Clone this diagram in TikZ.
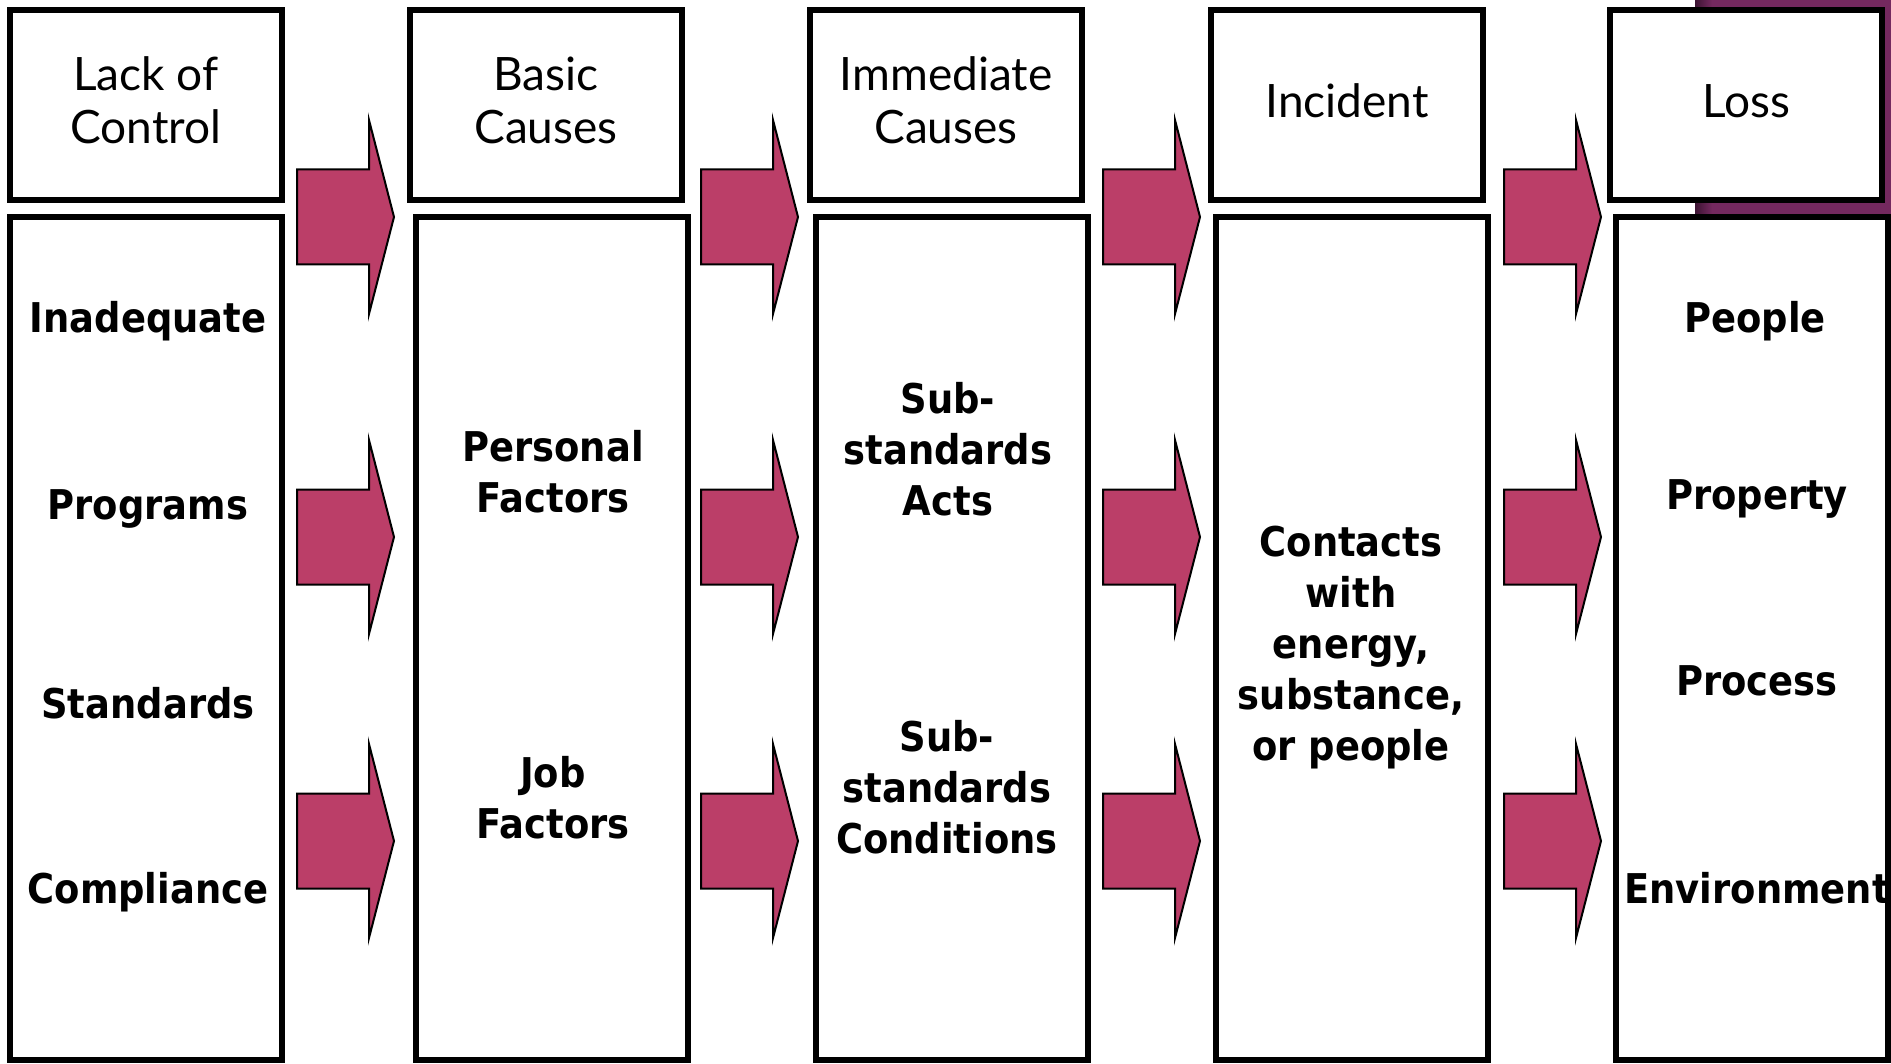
\documentclass[tikz,border=0pt]{standalone}
\usepackage{fontspec}
\newfontfamily\bodyfont[FakeStretch=0.9]{DejaVu Sans}
\newfontfamily\headfont{Lato}
\newcommand\bstrut{\rule[-10pt]{0pt}{50pt}}
\newcommand\hstrut{\rule[-10pt]{0pt}{53pt}}
\definecolor{arrowred}{RGB}{187,62,104}
\definecolor{slidepurple}{RGB}{116,41,95}
\definecolor{slidedark}{RGB}{60,20,50}
\begin{document}
\begin{tikzpicture}[x=1pt,y=-1pt,
  box/.style={draw=black, line width=6pt, fill=white, minimum width=272pt, inner sep=0pt, outer sep=0pt},
  hbox/.style={box, minimum height=190.5pt},
  bbox/.style={box, minimum height=843pt},
  htext/.style={font=\headfont\fontsize{46}{53}\selectfont, align=center, inner sep=0pt},
  btext/.style={font=\bodyfont\bfseries\fontsize{41}{51}\selectfont, align=center, inner sep=0pt},
  arrowfill/.style={fill=arrowred, draw=black, line width=2pt, line join=miter},
  bigarrow/.pic={\draw[arrowfill] (0,-47.5) -- (72,-47.5) -- (72,-97) -- (97,0) -- (72,97) -- (72,47.5) -- (0,47.5) -- cycle;}]
\useasboundingbox (0,0) rectangle (1891,1064);
\clip (0,0) rectangle (1891,1064);
% slide background peeking
\fill[slidepurple] (1695,0) rectangle (1891,214);
\shade[left color=slidedark, right color=slidepurple] (1695,0) rectangle (1712,214);
% header boxes
\node[hbox] (h1) at (146,105) {};
\node[hbox] (h2) at (546,105) {};
\node[hbox] (h3) at (946,105) {};
\node[hbox] (h4) at (1347,105) {};
\node[hbox] (h5) at (1746,105) {};
% header texts
\node[htext] (ht1) at (146,101) {\hstrut Lack of\\\hstrut Control};
\node[htext] (ht2) at (546,101) {\hstrut Basic\\\hstrut Causes};
\node[htext] (ht3) at (946,101) {\hstrut Immediate\\\hstrut Causes};
\node[htext] (ht4) at (1347,101) {\hstrut Incident};
\node[htext] (ht5) at (1746,101) {\hstrut Loss};
% body boxes
\node[bbox] (b1) at (146,638.5) {};
\node[bbox] (b2) at (552,638.5) {};
\node[bbox] (b3) at (952,638.5) {};
\node[bbox] (b4) at (1352,638.5) {};
\node[bbox] (b5) at (1752,638.5) {};
% body texts
\node[btext] (c1a) at (148,318) {\bstrut Inadequate};
\node[btext] (c1b) at (148,504) {\bstrut Programs};
\node[btext] (c1c) at (148,703) {\bstrut Standards};
\node[btext] (c1d) at (148,888) {\bstrut Compliance};
\node[btext] (c2a) at (553,471.5) {\bstrut Personal\\\bstrut Factors};
\node[btext] (c2b) at (553,798) {\bstrut Job\\\bstrut Factors};
\node[btext] (c3a) at (948,449) {\bstrut Sub-\\\bstrut standards\\\bstrut Acts};
\node[btext] (c3b) at (947,787.5) {\bstrut Sub-\\\bstrut standards\\\bstrut Conditions};
\node[btext] (c4a) at (1351,643.5) {\bstrut Contacts\\\bstrut with\\\bstrut energy,\\\bstrut substance,\\\bstrut or people};
\node[btext] (c5a) at (1755,318) {\bstrut People};
\node[btext] (c5b) at (1757,494) {\bstrut Property};
\node[btext] (c5c) at (1757,680) {\bstrut Process};
\node[btext] (c5d) at (1757,888) {\bstrut Environment};
% block arrows
\foreach \ax in {297,701,1103,1504}{
  \foreach \ay in {217,537,841}{
    \pic at (\ax,\ay) {bigarrow};
  }
}
\end{tikzpicture}
\end{document}
